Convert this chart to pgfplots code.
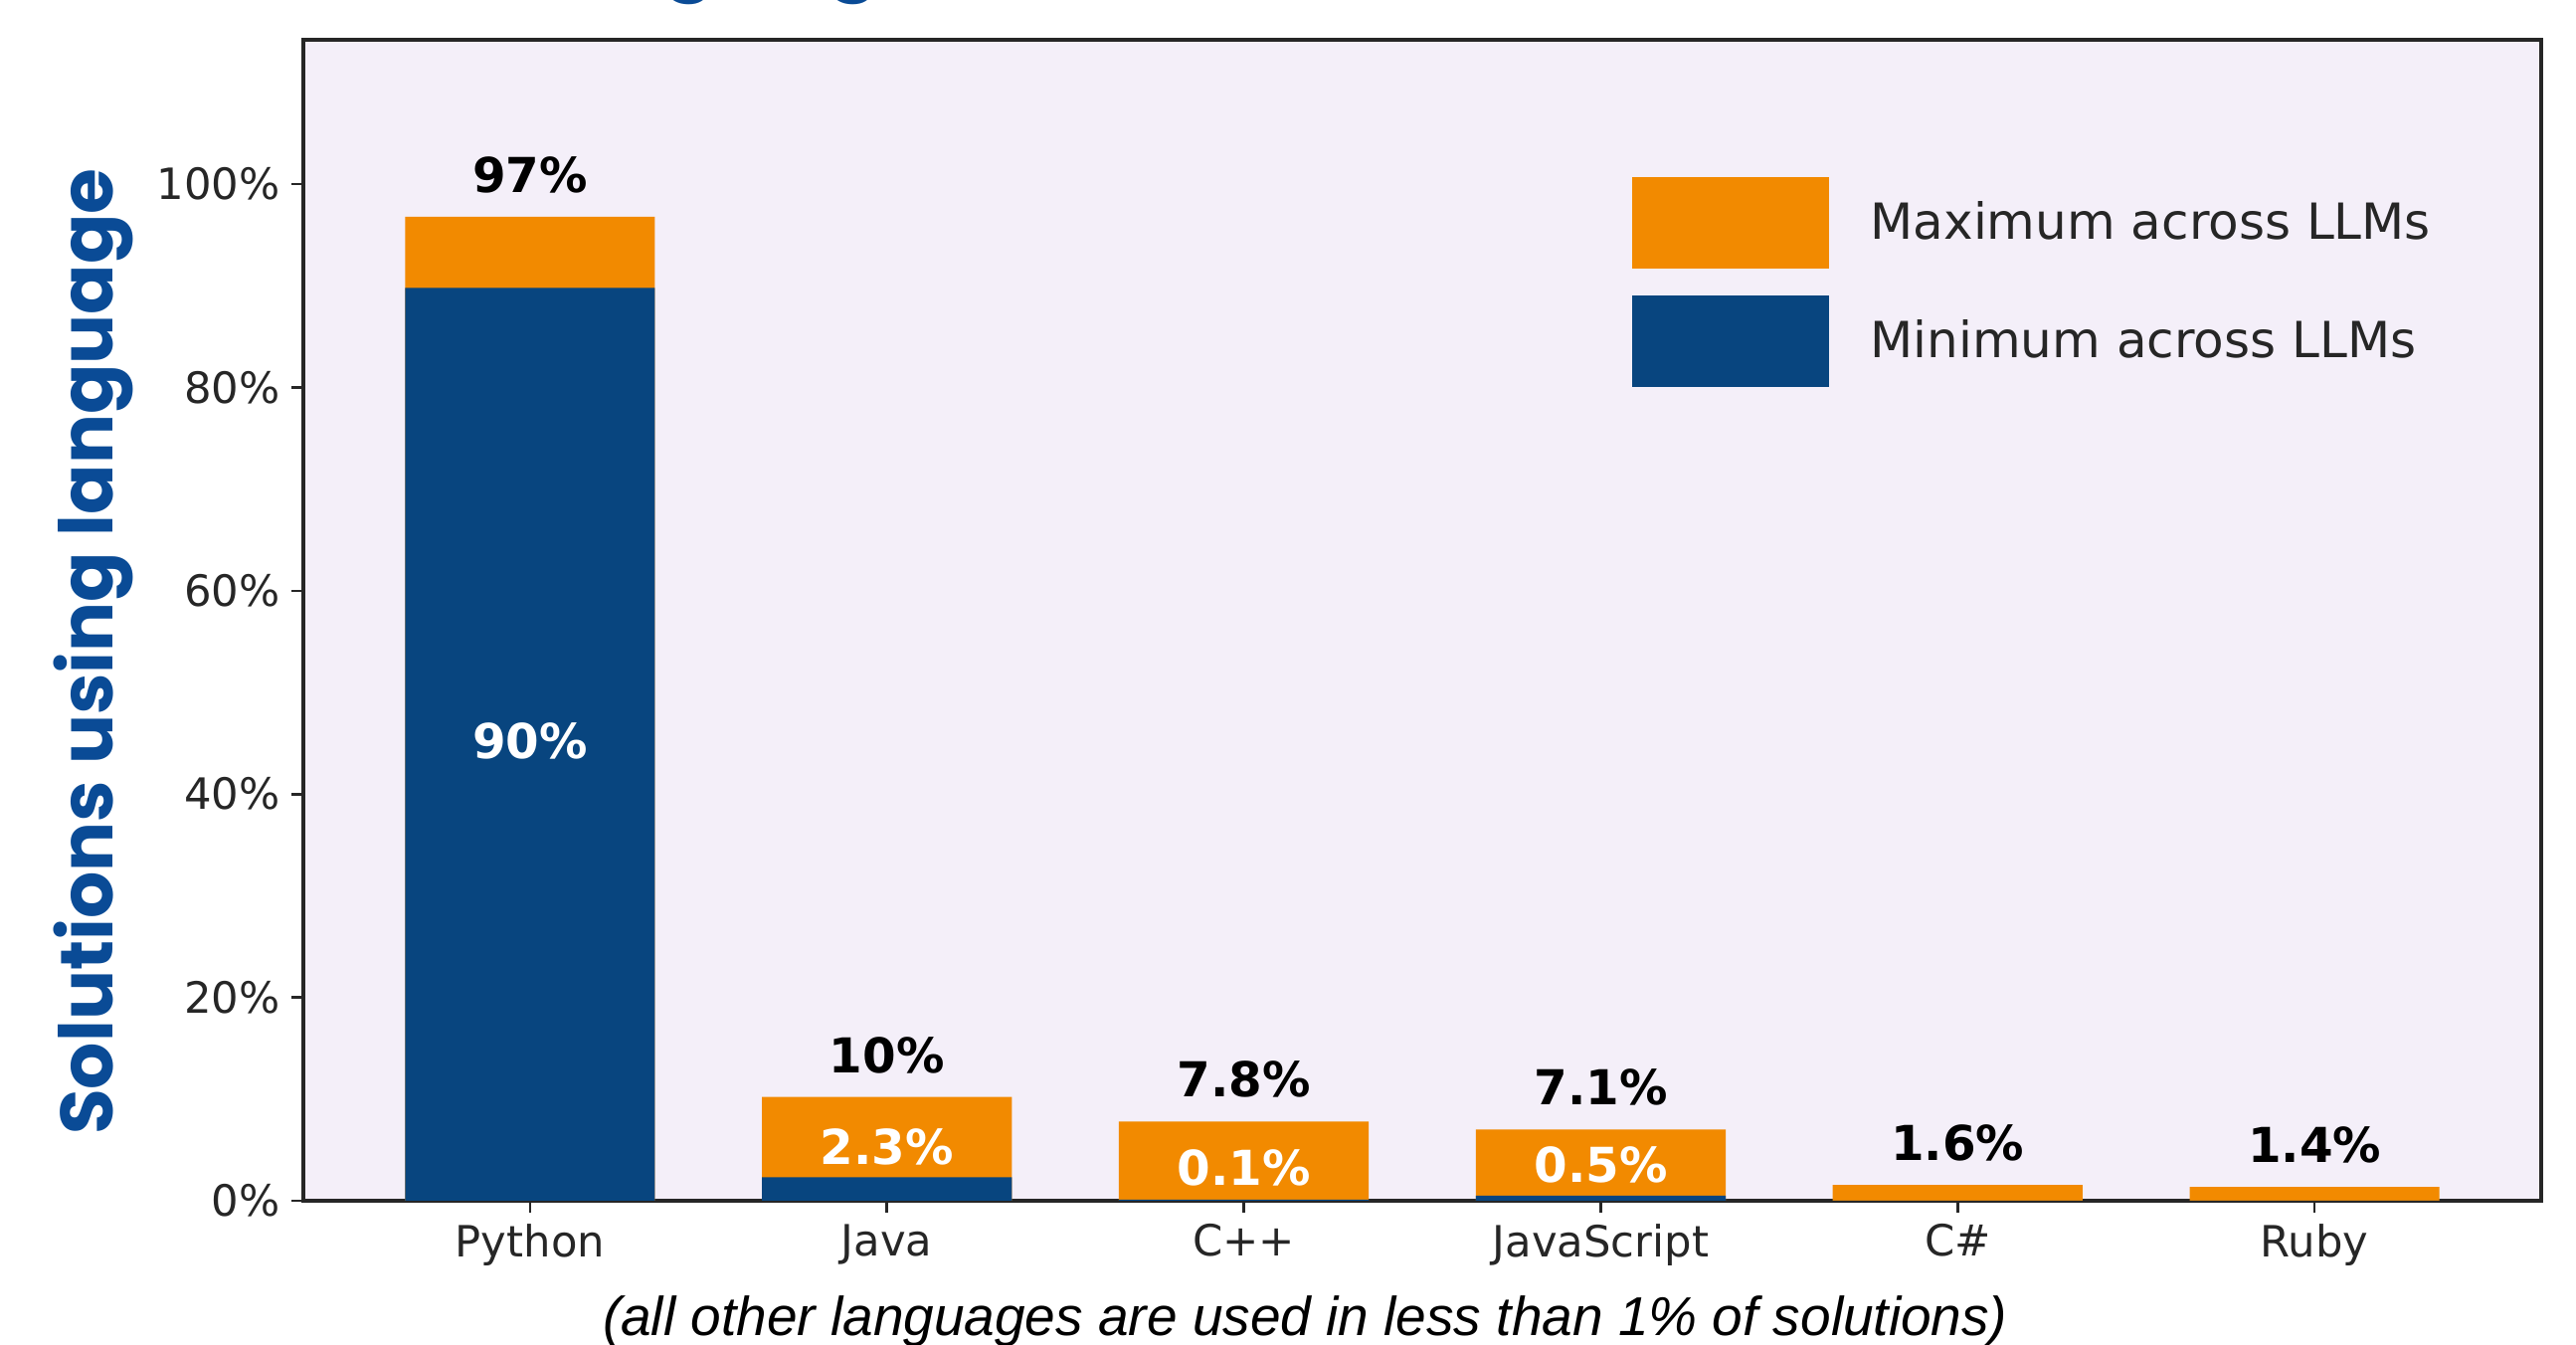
\documentclass[border=0pt]{standalone}
\usepackage{fontspec}
\usepackage{pgfplots}
\pgfplotsset{compat=1.18}
\setmainfont{DejaVu Sans}
\newfontfamily\poppins{Poppins}
\newfontfamily\libsans{Liberation Sans}
\definecolor{orng}{HTML}{F28A00}
\definecolor{nblue}{HTML}{08457F}
\definecolor{bg}{HTML}{F4EFF9}
\definecolor{tblue}{HTML}{0A4B96}
\pgfplotsset{mylegend/.style={legend image code/.code={\fill[##1] (0pt,-13.8pt) rectangle (59.4pt,13.8pt);}}}
\begin{document}
\begin{tikzpicture}
\begin{axis}[
  scale only axis, width=675pt, height=350.1pt,
  xmin=-0.635, xmax=5.635, ymin=0, ymax=114.2,
  axis background/.style={fill=bg},
  axis line style={line width=1pt, black!85},
  xtick={0,...,5}, xticklabels={Python,Java,C++,JavaScript,C\#,Ruby},
  ytick={0,20,40,60,80,100}, yticklabels={0\%,20\%,40\%,60\%,80\%,100\%},
  xtick pos=lower, ytick pos=left,
  tick align=outside, major tick length=3.5pt,
  tick style={black!85, line width=0.8pt},
  ticklabel style={font=\fontsize{13}{15}\selectfont, text=black!85},
  ylabel={Solutions using language},
  ylabel style={at={(axis description cs:-0.0938,0.473)}, anchor=center, font=\poppins\bfseries\fontsize{22.3}{27}\selectfont, text=tblue},
  legend style={at={(rel axis cs:0.5933,0.8826)}, anchor=north west, draw=none, fill=none, inner sep=0pt, row sep=8.1pt, column sep=12.6pt, font=\fontsize{15}{18}\selectfont, cells={anchor=west}, nodes={inner sep=0pt, text=black!85}},
  clip=false,
]
\addplot[ybar, bar width=0.7, bar shift=0pt, fill=orng, draw=none, mylegend,
  nodes near coords, point meta=explicit symbolic,
  nodes near coords style={anchor=south, inner sep=0pt, yshift=7pt, font=\bfseries\fontsize{14.5}{17}\selectfont, text=black}]
  coordinates {(0,96.8)[97\%] (1,10.2)[10\%] (2,7.8)[7.8\%] (3,7.0)[7.1\%] (4,1.55)[1.6\%] (5,1.35)[1.4\%]};
\addplot[ybar, bar width=0.7, bar shift=0pt, fill=nblue, draw=none, mylegend]
  coordinates {(0,89.8) (1,2.3) (2,0.1) (3,0.5) (4,0) (5,0)};
\addplot[forget plot, draw=none, mark=none,
  nodes near coords, point meta=explicit symbolic, nodes near coords align={center},
  nodes near coords style={anchor=center, inner sep=0pt, font=\bfseries\fontsize{14.5}{17}\selectfont, text=white}]
  coordinates {(0,45.2)[90\%] (1,5.3)[2.3\%] (2,3.2)[0.1\%] (3,3.5)[0.5\%]};
\legend{Maximum across LLMs, Minimum across LLMs}
\end{axis}
\node[font=\libsans\itshape\fontsize{16.5}{19}\selectfont, text=black] at (302.2pt,-36.3pt) {(all other languages are used in less than 1\% of solutions)};
\node[font=\poppins\bfseries\fontsize{24.3}{28}\selectfont, text=tblue, anchor=base west, inner sep=0pt] at (63.6pt,367.3pt) {Language};
\pgfresetboundingbox
\useasboundingbox (-91.5pt,-43.5pt) rectangle (685.5pt,362.1pt);
\end{tikzpicture}
\end{document}
